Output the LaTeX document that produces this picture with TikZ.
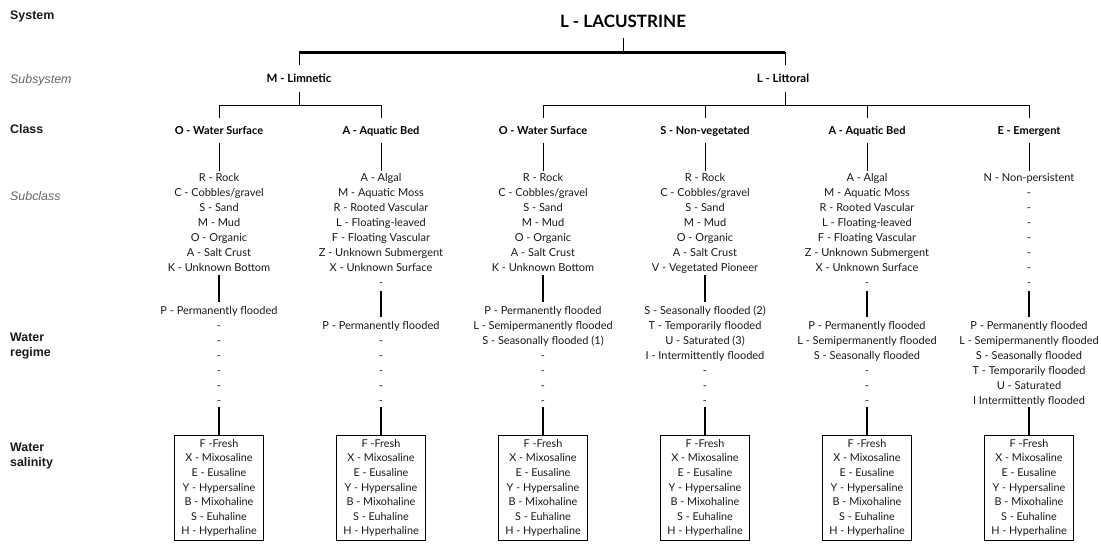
\documentclass[tikz,border=0pt]{standalone}
\usepackage{fontspec}
\setmainfont{Lato}
\newfontfamily\labfont{Liberation Sans}
\begin{document}
\begin{tikzpicture}[x=1pt,y=-1pt,
 lab/.style={anchor=west, inner sep=0, font=\labfont\bfseries\fontsize{12.4}{15}\selectfont, align=left, text=black!90},
 labit/.style={anchor=west, inner sep=0, font=\labfont\itshape\fontsize{12.4}{15}\selectfont, text=black!60},
 sysn/.style={font=\bfseries\fontsize{17}{19}\selectfont, inner sep=0},
 subn/.style={font=\bfseries\fontsize{11.5}{13}\selectfont, inner sep=0, anchor=base},
 clsn/.style={font=\bfseries\fontsize{11}{13}\selectfont, inner sep=0, anchor=base},
 lst/.style={anchor=north, align=center, inner sep=0, font=\fontsize{11}{15}\selectfont, text=black!90},
 salbox/.style={draw, line width=1.2pt, minimum width=89pt, minimum height=105pt, anchor=north, align=center, inner sep=0, font=\fontsize{10.8}{14.6}\selectfont, text=black!90},
 tree/.style={line width=0.9pt},
 thickbar/.style={line width=3pt},
]
\fill[white] (0,0) rectangle (1101,544);
\useasboundingbox (0,0) rectangle (1101,544);

% left labels
\node[lab] (lsys) at (10,16) {System};
\node[labit] (lsub) at (10,80) {Subsystem};
\node[lab] (lcls) at (10,129) {Class};
\node[labit] (lscl) at (10,196) {Subclass};
\node[lab] (lreg) at (10,346.5) {Water\\regime};
\node[lab] (lsal) at (10,456.5) {Water\\salinity};

% system
\node[sysn] (sys) at (623,21.7) {L - LACUSTRINE};
\coordinate (sysb) at (623,38);
\coordinate (bar) at (623,52);
\coordinate (barl) at (299,52);
\coordinate (barr) at (785,52);
\draw[tree] (sysb) -- (bar);
\draw[thickbar] (barl) -- (barr);

% subsystems
\node[subn] (lim) at (299,82.2) {M - Limnetic};
\node[subn] (lit) at (783,82.2) {L - Littoral};
\coordinate (limt) at (299,65); \coordinate (litt) at (785,65);
\draw[tree] (barl) -- (limt);
\draw[tree] (barr) -- (litt);
\coordinate (limb) at (299,92); \coordinate (limj) at (299,105);
\coordinate (litb) at (785,92); \coordinate (litj) at (785,105);
\draw[tree] (limb) -- (limj);
\draw[tree] (litb) -- (litj);

% column coordinates
\foreach \x [count=\i] in {219,381,543,705,867,1029} {
  \coordinate (h\i) at (\x,105);
  \coordinate (kt\i) at (\x,118);
  \coordinate (kb\i) at (\x,143);
  \coordinate (st\i) at (\x,171);
  \coordinate (rb\i) at (\x,407);
}
\draw[tree] (h1) -- (h2);
\draw[tree] (h3) -- (h6);
\foreach \i in {1,...,6} {
  \draw[tree] (h\i) -- (kt\i);
  \draw[tree] (kb\i) -- (st\i);
}

% classes
\node[clsn] (k1) at (219,134.5) {O - Water Surface};
\node[clsn] (k2) at (381,134.5) {A - Aquatic Bed};
\node[clsn] (k3) at (543,134.5) {O - Water Surface};
\node[clsn] (k4) at (705,134.5) {S - Non-vegetated};
\node[clsn] (k5) at (867,134.5) {A - Aquatic Bed};
\node[clsn] (k6) at (1029,134.5) {E - Emergent};

% subclasses
\node[lst] (s1) at (219,173.2) {R - Rock\\C - Cobbles/gravel\\S - Sand\\M - Mud\\O - Organic\\A - Salt Crust\\K - Unknown Bottom};
\node[lst] (s2) at (381,173.2) {A - Algal\\M - Aquatic Moss\\R - Rooted Vascular\\L - Floating-leaved\\F - Floating Vascular\\Z - Unknown Submergent\\X - Unknown Surface\\-};
\node[lst] (s3) at (543,173.2) {R - Rock\\C - Cobbles/gravel\\S - Sand\\M - Mud\\O - Organic\\A - Salt Crust\\K - Unknown Bottom};
\node[lst] (s4) at (705,173.2) {R - Rock\\C - Cobbles/gravel\\S - Sand\\M - Mud\\O - Organic\\A - Salt Crust\\V - Vegetated Pioneer};
\node[lst] (s5) at (867,173.2) {A - Algal\\M - Aquatic Moss\\R - Rooted Vascular\\L - Floating-leaved\\F - Floating Vascular\\Z - Unknown Submergent\\X - Unknown Surface\\-};
\node[lst] (s6) at (1029,173.2) {N - Non-persistent\\-\\-\\-\\-\\-\\-\\-};

% connectors subclass -> regime
\coordinate (a1) at (219,275); \coordinate (b1) at (219,302);
\coordinate (a2) at (381,291); \coordinate (b2) at (381,317);
\coordinate (a3) at (543,275); \coordinate (b3) at (543,302);
\coordinate (a4) at (705,275); \coordinate (b4) at (705,302);
\coordinate (a5) at (867,291); \coordinate (b5) at (867,317);
\coordinate (a6) at (1029,291); \coordinate (b6) at (1029,317);
\foreach \i in {1,...,6} { \draw[line width=1.1pt] (a\i) -- (b\i); }

% water regimes
\node[lst] (r1) at (219,306.2) {P - Permanently flooded\\-\\-\\-\\-\\-\\-};
\node[lst] (r2) at (381,321.2) {P - Permanently flooded\\-\\-\\-\\-\\-};
\node[lst] (r3) at (543,306.2) {P - Permanently flooded\\L - Semipermanently flooded\\S - Seasonally flooded (1)\\-\\-\\-\\-};
\node[lst] (r4) at (705,306.2) {S - Seasonally flooded (2)\\T - Temporarily flooded\\U - Saturated (3)\\I - Intermittently flooded\\-\\-\\-};
\node[lst] (r5) at (867,321.2) {P - Permanently flooded\\L - Semipermanently flooded\\S - Seasonally flooded\\-\\-\\-};
\node[lst] (r6) at (1029,321.2) {P - Permanently flooded\\L - Semipermanently flooded\\S - Seasonally flooded\\T - Temporarily flooded\\U - Saturated\\I Intermittently flooded};

% salinity boxes
\foreach \x [count=\i] in {219,381,543,705,867,1029} {
  \node[salbox] (sal\i) at (\x,435) {F -Fresh\\X - Mixosaline\\E - Eusaline\\Y - Hypersaline\\B - Mixohaline\\S - Euhaline\\H - Hyperhaline};
  \draw[line width=1.1pt] (rb\i) -- (sal\i.north);
}
\end{tikzpicture}
\end{document}
